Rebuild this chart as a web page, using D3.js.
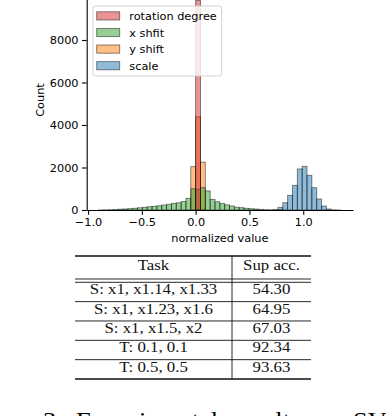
<!DOCTYPE html>
<html>
<head>
<meta charset="utf-8">
<script src="https://cdn.jsdelivr.net/npm/d3@7"></script>
<style>
  body { margin: 0; background: #fff; }
  svg { display: block; }
  .tick text { font-family: "DejaVu Sans", sans-serif; font-size: 11.3px; fill: #000; }
  .axis-title { font-family: "DejaVu Sans", sans-serif; font-size: 11.3px; fill: #000; }
  .legend-text { font-family: "DejaVu Sans", sans-serif; font-size: 11.3px; fill: #000; }
  .table-text { font-family: "Liberation Serif", "Times New Roman", serif; font-size: 14.5px; fill: #111; }
  .caption { font-family: "Liberation Serif", "Times New Roman", serif; font-size: 24px; fill: #000; }
</style>
</head>
<body>
<div id="chart"></div>
<script>

// histogram bins (shared by all series)
var binStart = -0.9,
    binWidth = 0.045,
    binCount = 50;

// series names, in legend order
var seriesNames = ["rotation degree", "x shfit", "y shift", "scale"];

// counts per bin
var rotationCounts = [0,0,0,0,0,0,0,0,0,0, 0,0,0,0,0,0,0,0,0,0,
                      9860,0,0,0,0,0,0,0,0,0, 0,0,0,0,0,0,0,0,0,0,
                      0,0,0,0,0,0,0,0,0,0];
var xShiftCounts = [4,8,15,25,38,48,62,80,105,125, 155,175,200,235,270,310,340,400,550,1000,
                    980,1050,900,500,390,310,240,190,130,110, 80,60,45,30,18,10,5,2,0,0,
                    0,0,0,0,0,0,0,0,0,0];
var yShiftCounts = [0,0,0,0,0,0,0,0,0,0, 0,0,0,0,0,0,0,0,0,2040,
                    4390,2250,0,0,0,0,0,0,0,0, 0,0,0,0,0,0,0,0,0,0,
                    0,0,0,0,0,0,0,0,0,0];
var scaleCounts = [0,0,0,0,0,0,0,0,0,0, 0,0,0,0,0,0,0,0,0,0,
                   0,0,0,0,0,0,0,0,0,0, 0,0,0,0,0,0,12,125,345,690,
                   1160,1930,2055,1630,1050,518,188,47,8,2];

// axis ticks
var xTicks = [-1.0, -0.5, 0.0, 0.5, 1.0];
var yTicks = [0, 2000, 4000, 6000, 8000];

// table contents
var tableHeader = ["Task", "Sup acc."];
var taskLabels = ["S: x1, x1.14, x1.33", "S: x1, x1.23, x1.6", "S: x1, x1.5, x2", "T: 0.1, 0.1", "T: 0.5, 0.5"];
var supAcc = ["54.30", "64.95", "67.03", "92.34", "93.63"];

var captionText = "3. Experimental results on SVHN";

///////////////////////////////////////////////////
//          Histogram
///////////////////////////////////////////////////

var width = 386, height = 416;

var svg = d3.select("#chart")
  .append("svg")
  .attr("width", width)
  .attr("height", height);

svg.append("rect")
  .attr("width", width)
  .attr("height", height)
  .attr("fill", "#fff");

// seaborn-like colours (drawn with alpha .5)
var color = d3.scaleOrdinal()
  .domain(seriesNames)
  .range(["#d62728", "#2ca02c", "#ff7f0e", "#1f77b4"]);

var allCounts = {
  "rotation degree": rotationCounts,
  "x shfit": xShiftCounts,
  "y shift": yShiftCounts,
  "scale": scaleCounts
};

var dataMin = binStart,
    dataMax = binStart + binWidth * binCount,
    pad = (dataMax - dataMin) * 0.05;

var xScale = d3.scaleLinear()
  .domain([dataMin - pad, dataMax + pad])
  .range([86.7, 353]);

var yMax = d3.max(seriesNames, function(s) { return d3.max(allCounts[s]); }) * 1.05;

var yScale = d3.scaleLinear()
  .domain([0, yMax])
  .range([210, -10]);

var plot = svg.append("g");

// layers: first legend entry ends up on top
seriesNames.slice().reverse().forEach(function(name) {
  var bins = allCounts[name].map(function(c, i) {
    return {x0: binStart + i * binWidth, x1: binStart + (i + 1) * binWidth, count: c};
  }).filter(function(d) { return d.count > 0; });

  plot.selectAll(".bar-" + name.replace(/\s/g, ""))
    .data(bins)
    .enter()
    .append("rect")
    .attr("x", function(d) { return xScale(d.x0); })
    .attr("width", function(d) { return xScale(d.x1) - xScale(d.x0); })
    .attr("y", function(d) { return yScale(d.count); })
    .attr("height", function(d) { return yScale(0) - yScale(d.count); })
    .attr("fill", color(name))
    .attr("fill-opacity", 0.5)
    .attr("stroke", "#000")
    .attr("stroke-opacity", 0.5)
    .attr("stroke-width", 0.9);
});

// axes
var xAxis = d3.axisBottom(xScale)
  .tickValues(xTicks)
  .tickFormat(d3.format(".1f"))
  .tickSize(4.7)
  .tickSizeOuter(0)
  .tickPadding(3.5);

var yAxis = d3.axisLeft(yScale)
  .tickValues(yTicks)
  .tickFormat(d3.format("d"))
  .tickSize(4.7)
  .tickSizeOuter(0)
  .tickPadding(3.5);

var gx = svg.append("g")
  .attr("transform", "translate(0," + yScale(0) + ")")
  .call(xAxis);

var gy = svg.append("g")
  .attr("transform", "translate(" + xScale.range()[0] + ",0)")
  .call(yAxis);

[gx, gy].forEach(function(g) {
  g.select(".domain").attr("stroke", "#000").attr("stroke-width", 1.1);
  g.selectAll(".tick line").attr("stroke", "#000").attr("stroke-width", 1.1);
});

svg.append("text")
  .attr("class", "axis-title")
  .attr("text-anchor", "middle")
  .attr("x", (xScale.range()[0] + xScale.range()[1]) / 2)
  .attr("y", 242)
  .text("normalized value");

svg.append("text")
  .attr("class", "axis-title")
  .attr("text-anchor", "middle")
  .attr("transform", "translate(43.5," + (yScale.range()[0] + yScale.range()[1]) / 2 + ") rotate(-90)")
  .text("Count");

// legend
var legend = svg.append("g").attr("transform", "translate(93,6)");

legend.append("rect")
  .attr("width", 128.7)
  .attr("height", 70)
  .attr("rx", 2.5)
  .attr("fill", "#fff")
  .attr("fill-opacity", 0.8)
  .attr("stroke", "#cccccc")
  .attr("stroke-width", 0.9);

var items = legend.selectAll(".legend-item")
  .data(seriesNames)
  .enter()
  .append("g")
  .attr("class", "legend-item")
  .attr("transform", function(d, i) { return "translate(0," + (10 + i * 16.6) + ")"; });

items.append("rect")
  .attr("x", 3.7)
  .attr("y", -4.2)
  .attr("width", 23)
  .attr("height", 8.2)
  .attr("fill", function(d) { return color(d); })
  .attr("fill-opacity", 0.5)
  .attr("stroke", "#000")
  .attr("stroke-opacity", 0.5)
  .attr("stroke-width", 0.9);

items.append("text")
  .attr("class", "legend-text")
  .attr("x", 36.3)
  .attr("y", 4)
  .text(function(d) { return d; });

///////////////////////////////////////////////////
//          Table
///////////////////////////////////////////////////

var tableLeft = 75, tableRight = 311, colSplit = 232;
var tableTop = 256, headerBottom = 279, bodyTop = 282.3, tableBottom = 379;

var rowScale = d3.scaleBand()
  .domain(d3.range(taskLabels.length))
  .range([bodyTop, tableBottom]);

var colCenter = d3.scaleOrdinal()
  .domain([0, 1])
  .range([(tableLeft + colSplit) / 2, (colSplit + tableRight) / 2]);

var table = svg.append("g");

function hline(yPos, w) {
  table.append("line")
    .attr("x1", tableLeft).attr("x2", tableRight)
    .attr("y1", yPos).attr("y2", yPos)
    .attr("stroke", "#111")
    .attr("stroke-width", w);
}

hline(tableTop, 1.6);
hline(headerBottom, 0.9);
hline(bodyTop, 0.9);
d3.range(1, taskLabels.length).forEach(function(i) { hline(rowScale(i), 0.9); });
hline(tableBottom, 1.6);

table.append("line")
  .attr("x1", colSplit).attr("x2", colSplit)
  .attr("y1", tableTop).attr("y2", tableBottom)
  .attr("stroke", "#111")
  .attr("stroke-width", 0.9);

function cellText(txt, col, baseY) {
  var cx = colCenter(col);
  table.append("text")
    .attr("class", "table-text")
    .attr("text-anchor", "middle")
    .attr("transform", "translate(" + cx + "," + baseY + ") scale(1.16,1)")
    .text(txt);
}

tableHeader.forEach(function(h, j) { cellText(h, j, 269.8); });

taskLabels.forEach(function(t, i) {
  var baseY = rowScale(i) + rowScale.bandwidth() * 0.62;
  cellText(t, 0, baseY);
  cellText(supAcc[i], 1, baseY);
});

// caption (cut off by the bottom edge, as in the source page)
svg.append("text")
  .attr("class", "caption")
  .attr("transform", "translate(43,428) scale(1.1,1)")
  .attr("word-spacing", "6px")
  .text(captionText);

</script>
</body>
</html>
